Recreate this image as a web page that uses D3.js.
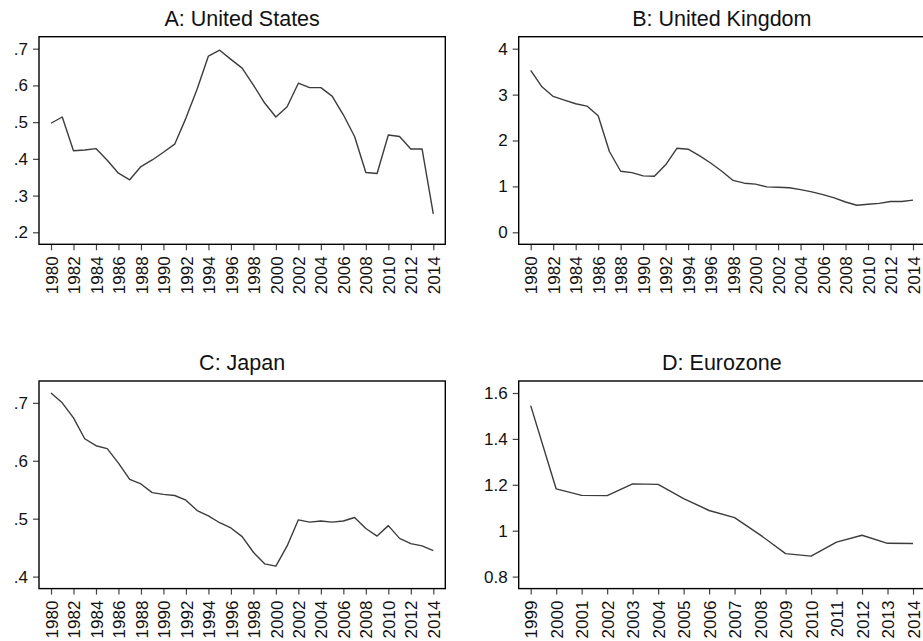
<!DOCTYPE html>
<html>
<head>
<meta charset="utf-8">
<script src="https://cdn.jsdelivr.net/npm/d3@7"></script>
<style>
html,body{margin:0;padding:0;background:#fff;overflow:hidden;}
svg{display:block;}
text{font-family:"Liberation Sans",Arial,Helvetica,sans-serif;fill:#111;}
</style>
</head>
<body>
<div id="chart"></div>
<script>
// ---- data ----
const titles = ["A: United States", "B: United Kingdom", "C: Japan", "D: Eurozone"];

const years = [1980,1981,1982,1983,1984,1985,1986,1987,1988,1989,1990,1991,1992,1993,1994,1995,1996,1997,1998,1999,2000,2001,2002,2003,2004,2005,2006,2007,2008,2009,2010,2011,2012,2013,2014];
const yearsEuro = [1999,2000,2001,2002,2003,2004,2005,2006,2007,2008,2009,2010,2011,2012,2013,2014];

const valuesUS = [0.497,0.514,0.422,0.424,0.428,0.396,0.361,0.343,0.379,0.397,0.418,0.440,0.511,0.590,0.680,0.696,0.671,0.647,0.601,0.552,0.514,0.542,0.606,0.594,0.594,0.571,0.520,0.461,0.363,0.360,0.465,0.461,0.427,0.427,0.250];
const valuesUK = [3.53,3.17,2.96,2.88,2.80,2.75,2.54,1.76,1.33,1.30,1.23,1.22,1.47,1.83,1.81,1.67,1.51,1.33,1.13,1.07,1.05,0.99,0.98,0.97,0.93,0.88,0.82,0.75,0.66,0.59,0.61,0.63,0.67,0.67,0.70];
const valuesJP = [0.717,0.700,0.674,0.638,0.626,0.621,0.596,0.568,0.560,0.545,0.542,0.540,0.532,0.514,0.505,0.493,0.484,0.469,0.442,0.422,0.418,0.453,0.498,0.494,0.496,0.494,0.496,0.502,0.483,0.470,0.488,0.466,0.457,0.453,0.445];
const valuesEZ = [1.545,1.182,1.154,1.153,1.204,1.202,1.140,1.088,1.057,0.982,0.900,0.889,0.950,0.980,0.945,0.944];

const yTicksUS = [0.2,0.3,0.4,0.5,0.6,0.7];
const yTickLabelsUS = [".2",".3",".4",".5",".6",".7"];
const yTicksUK = [0,1,2,3,4];
const yTickLabelsUK = ["0","1","2","3","4"];
const yTicksJP = [0.4,0.5,0.6,0.7];
const yTickLabelsJP = [".4",".5",".6",".7"];
const yTicksEZ = [0.8,1.0,1.2,1.4,1.6];
const yTickLabelsEZ = ["0.8","1","1.2","1.4","1.6"];

const xTicksMain = [1980,1982,1984,1986,1988,1990,1992,1994,1996,1998,2000,2002,2004,2006,2008,2010,2012,2014];
const xTicksEuro = yearsEuro;

// ---- layout ----
const W = 923, H = 641;
const frames = [{x:39,y:36.7},{x:518.7,y:36.7},{x:39,y:381},{x:518.7,y:381}];
const FW = 406.3, FH = 207.6, PAD = 12;

const panels = [
  {title:titles[0], x:years, y:valuesUS, yt:yTicksUS, ytl:yTickLabelsUS, xt:xTicksMain},
  {title:titles[1], x:years, y:valuesUK, yt:yTicksUK, ytl:yTickLabelsUK, xt:xTicksMain},
  {title:titles[2], x:years, y:valuesJP, yt:yTicksJP, ytl:yTickLabelsJP, xt:xTicksMain},
  {title:titles[3], x:yearsEuro, y:valuesEZ, yt:yTicksEZ, ytl:yTickLabelsEZ, xt:xTicksEuro}
];

const svg = d3.select("#chart").append("svg").attr("width", W).attr("height", H);

panels.forEach((p, i) => {
  const f = frames[i];
  const g = svg.append("g").attr("transform", `translate(${f.x},${f.y})`);

  const x = d3.scaleLinear().domain(d3.extent(p.x)).range([PAD, FW - PAD]);
  const ext = d3.extent(p.y.concat(p.yt));
  const y = d3.scaleLinear().domain(ext).range([FH - PAD, PAD]);

  // title
  g.append("text")
    .attr("x", FW / 2).attr("y", -11)
    .attr("text-anchor", "middle")
    .style("font-size", "21.5px")
    .text(p.title);

  // y axis
  const yAxis = d3.axisLeft(y).tickValues(p.yt)
    .tickFormat((d, k) => p.ytl[k]).tickSize(6).tickPadding(5);
  const ya = g.append("g").call(yAxis);
  ya.select(".domain").remove();
  ya.selectAll(".tick line").attr("stroke", "#444").attr("stroke-width", 1.2);
  ya.selectAll(".tick text").style("font-size", "17px").attr("fill", "#111");

  // x axis
  const xAxis = d3.axisBottom(x).tickValues(p.xt)
    .tickFormat(d3.format("d")).tickSize(6).tickPadding(6);
  const xa = g.append("g").attr("transform", `translate(0,${FH})`).call(xAxis);
  xa.select(".domain").remove();
  xa.selectAll(".tick line").attr("stroke", "#444").attr("stroke-width", 1.2);
  xa.selectAll(".tick text")
    .style("font-size", "17px").attr("fill", "#111")
    .attr("transform", "rotate(-90)")
    .attr("text-anchor", "end")
    .attr("x", -12).attr("y", 0).attr("dy", "0.36em");

  // line
  const line = d3.line().x((d, k) => x(p.x[k])).y(d => y(d));
  g.append("path").datum(p.y)
    .attr("d", line)
    .attr("fill", "none")
    .attr("stroke", "#3c3c3c")
    .attr("stroke-width", 1.4)
    .attr("stroke-linejoin", "round");

  // frame
  g.append("rect").attr("x", 0).attr("y", 0).attr("width", FW).attr("height", FH)
    .attr("fill", "none").attr("stroke", "#000").attr("stroke-width", 1.4);
});
</script>
</body>
</html>
